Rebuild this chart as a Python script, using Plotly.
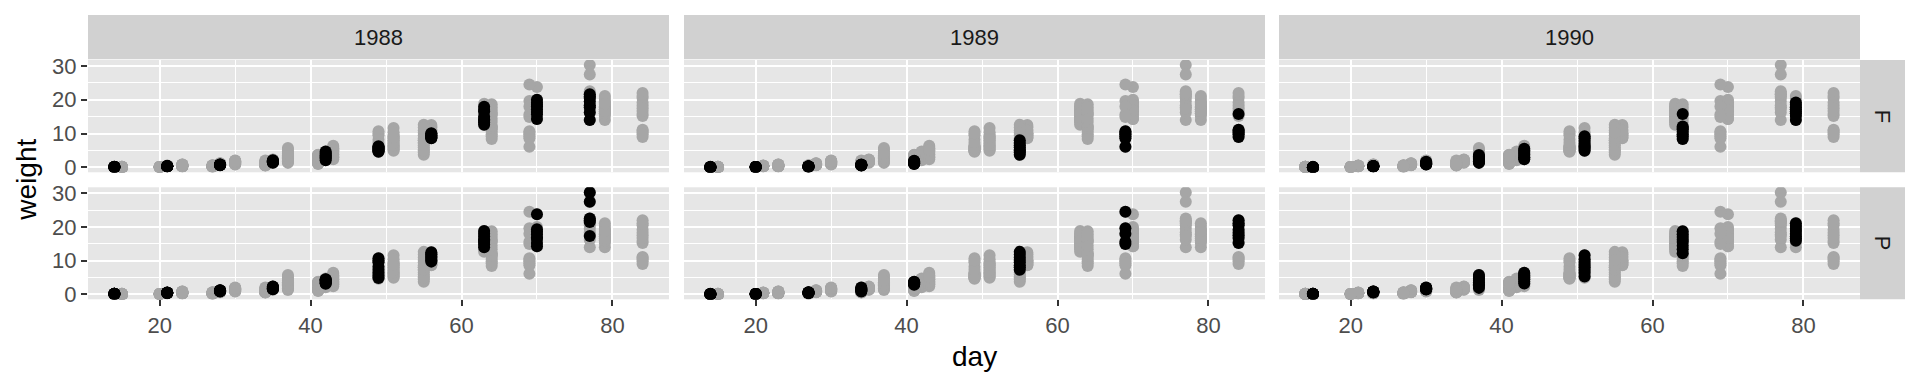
import plotly.graph_objects as go

# ---------------- data (Soybean-like leaf weight vs day) ----------------
years = ["1988", "1989", "1990"]
varieties = ["F", "P"]

days_1988 = [14, 21, 28, 35, 42, 49, 56, 63, 70, 77]
days_1989 = [14, 20, 27, 34, 41, 55, 69, 84]
days_1990 = [15, 23, 30, 37, 43, 51, 64, 79]

weight_1988_F = [
    [0.10, 0.10, 0.09, 0.11, 0.10, 0.11, 0.12, 0.10],
    [0.26, 0.33, 0.30, 0.28, 0.35, 0.31, 0.27, 0.29],
    [0.67, 0.79, 0.71, 0.62, 0.84, 0.75, 0.70, 0.66],
    [2.11, 1.45, 1.60, 1.80, 1.35, 1.95, 1.70, 1.55],
    [3.56, 4.70, 2.10, 3.20, 4.20, 2.60, 3.90, 2.90],
    [6.23, 5.00, 4.60, 5.60, 6.00, 4.90, 5.30, 5.80],
    [8.71, 9.50, 10.10, 8.60, 9.20, 9.90, 8.90, 9.40],
    [13.35, 15.00, 17.90, 12.60, 16.50, 14.20, 17.00, 13.80],
    [16.34, 18.50, 20.00, 14.30, 17.20, 19.10, 15.60, 18.00],
    [17.75, 21.60, 20.50, 19.50, 14.00, 18.40, 21.00, 16.20],
]
weight_1988_P = [
    [0.10, 0.12, 0.13, 0.11, 0.14, 0.12, 0.10, 0.13],
    [0.40, 0.45, 0.38, 0.50, 0.42, 0.36, 0.48, 0.44],
    [1.00, 1.15, 0.95, 1.20, 0.90, 1.05, 1.10, 0.85],
    [1.80, 2.20, 1.60, 2.00, 1.70, 2.30, 1.90, 1.50],
    [3.10, 4.50, 3.80, 4.20, 3.50, 4.00, 3.30, 4.40],
    [4.80, 10.70, 6.50, 8.20, 9.50, 5.60, 7.30, 10.00],
    [9.70, 12.50, 10.50, 11.80, 11.20, 10.10, 12.00, 10.90],
    [14.00, 18.80, 15.50, 17.20, 16.30, 14.80, 18.00, 15.90],
    [14.30, 23.80, 19.30, 16.50, 17.80, 15.20, 18.60, 16.90],
    [30.27, 27.50, 22.50, 21.50, 17.30, 22.00],
]
weight_1989_F = [
    [0.03, 0.04, 0.05, 0.04, 0.03, 0.05, 0.04, 0.03],
    [0.05, 0.06, 0.07, 0.05, 0.08, 0.06, 0.07, 0.05],
    [0.20, 0.25, 0.18, 0.22, 0.28, 0.21, 0.24, 0.19],
    [0.60, 0.75, 0.55, 0.70, 0.65, 0.80, 0.58, 0.68],
    [1.00, 1.90, 1.30, 1.60, 1.20, 1.75, 1.45, 1.10],
    [3.70, 8.00, 5.20, 6.50, 4.40, 7.20, 5.90, 4.90],
    [6.10, 10.70, 9.80, 8.60, 10.20, 9.20],
    [15.80, 11.10, 9.00, 10.30, 10.80, 9.80],
]
weight_1989_P = [
    [0.03, 0.05, 0.04, 0.06, 0.05, 0.04, 0.03, 0.05],
    [0.06, 0.08, 0.07, 0.09, 0.06, 0.08, 0.07, 0.05],
    [0.40, 0.55, 0.35, 0.48, 0.62, 0.42, 0.50, 0.38],
    [0.80, 2.00, 1.40, 1.10, 1.70, 1.25, 1.55, 0.95],
    [2.80, 3.70, 3.10, 3.40, 2.95, 3.60, 3.25, 3.50],
    [7.30, 12.60, 10.90, 8.00, 9.50, 11.80, 8.60, 10.20],
    [24.50, 19.60, 18.00, 15.60, 14.90],
    [22.00, 15.20, 20.50, 18.30, 16.70, 21.10, 19.20, 17.50],
]
weight_1990_F = [
    [0.02, 0.03, 0.02, 0.04, 0.03, 0.02, 0.03, 0.04],
    [0.30, 0.25, 0.35, 0.28, 0.32, 0.22, 0.38, 0.27],
    [0.80, 1.20, 1.60, 1.00, 1.40, 0.90, 1.30, 1.10],
    [1.30, 3.60, 2.20, 2.80, 1.80, 3.20, 2.50, 1.60],
    [2.40, 5.50, 3.60, 4.50, 3.00, 5.00, 4.00, 2.80],
    [4.90, 9.20, 6.30, 7.80, 5.50, 8.60, 7.00, 6.00],
    [15.80, 12.10, 8.40, 10.50, 11.30, 9.20, 9.80, 11.60],
    [14.00, 19.20, 16.50, 17.80, 15.20, 18.50, 16.00, 17.20],
]
weight_1990_P = [
    [0.10, 0.12, 0.08, 0.11, 0.09, 0.13, 0.10, 0.12],
    [0.70, 0.60, 0.80, 0.65, 0.75, 0.55, 0.85, 0.70],
    [1.60, 1.90, 1.40, 1.75, 1.50, 2.00, 1.65, 1.80],
    [1.90, 5.70, 3.50, 4.60, 2.60, 5.10, 3.00, 4.00],
    [3.20, 6.40, 4.50, 5.60, 3.80, 6.00, 4.90, 5.20],
    [5.30, 11.60, 8.00, 9.60, 6.40, 7.20, 8.80, 10.40],
    [12.20, 18.70, 15.50, 17.00, 13.40, 16.20, 14.40, 17.80],
    [15.90, 21.10, 18.00, 19.50, 17.20, 20.30, 16.60, 18.80],
]

x_ticks = [20, 40, 60, 80]
y_ticks = [0, 10, 20, 30]

groups = {
    ("1988", "F"): (days_1988, weight_1988_F),
    ("1988", "P"): (days_1988, weight_1988_P),
    ("1989", "F"): (days_1989, weight_1989_F),
    ("1989", "P"): (days_1989, weight_1989_P),
    ("1990", "F"): (days_1990, weight_1990_F),
    ("1990", "P"): (days_1990, weight_1990_P),
}


def flatten(days, weights):
    xs, ys = [], []
    for d, ws in zip(days, weights):
        for w in ws:
            xs.append(d)
            ys.append(w)
    return xs, ys


flat = {k: flatten(*v) for k, v in groups.items()}
all_x = [x for k in flat for x in flat[k][0]]
all_y = [y for k in flat for y in flat[k][1]]

# ggplot-like 5% expansion
xspan = max(all_x) - min(all_x)
yspan = max(all_y) - min(all_y)
xrange_ = [min(all_x) - 0.05 * xspan, max(all_x) + 0.05 * xspan]
yrange_ = [min(all_y) - 0.05 * yspan, max(all_y) + 0.05 * yspan]

# ---------------- layout geometry (pixels) ----------------
W, H = 1920, 384
col_px = [(88, 669), (684, 1265), (1279, 1860)]
row_px = [(60, 172.3), (187.3, 299.3)]
strip_top = (15, 59.3)
strip_right = (1860, 1905)

FONT = "Liberation Sans, Arial, Helvetica, sans-serif"
GRAY = "#A6A6A6"
STRIP = "#D1D1D1"
PANEL = "#E6E6E6"
TICKFONT = dict(family=FONT, size=22, color="#4D4D4D")


def fx(p):
    return p / W


def fy(p):
    return 1 - p / H


fig = go.Figure()
layout = dict(
    width=W, height=H,
    margin=dict(l=0, r=0, t=0, b=0, pad=0, autoexpand=False),
    paper_bgcolor="white",
    plot_bgcolor=PANEL,
    showlegend=False,
    shapes=[], annotations=[],
)

for r, var in enumerate(varieties):
    for c, yr in enumerate(years):
        k = r * 3 + c + 1
        xa = "x" if k == 1 else f"x{k}"
        ya = "y" if k == 1 else f"y{k}"
        fig.add_trace(go.Scatter(
            x=all_x, y=all_y, mode="markers", xaxis=xa, yaxis=ya,
            marker=dict(color=GRAY, size=12, line=dict(width=0)),
            hoverinfo="skip"))
        gx, gy = flat[(yr, var)]
        fig.add_trace(go.Scatter(
            x=gx, y=gy, mode="markers", xaxis=xa, yaxis=ya,
            marker=dict(color="black", size=12, line=dict(width=0)),
            hoverinfo="skip"))
        bottom = (r == 1)
        left = (c == 0)
        layout["xaxis" if k == 1 else f"xaxis{k}"] = dict(
            domain=[fx(col_px[c][0]), fx(col_px[c][1])],
            anchor=ya, range=xrange_, tickvals=x_ticks, automargin=False,
            showticklabels=bottom, ticks="outside" if bottom else "",
            ticklen=6, tickwidth=2, tickcolor="#333333",
            tickfont=TICKFONT, showgrid=True, gridcolor="white", gridwidth=2,
            minor=dict(tickvals=[30, 50, 70], showgrid=True,
                       gridcolor="white", gridwidth=1, ticks=""),
            zeroline=False, showline=False, fixedrange=True,
        )
        layout["yaxis" if k == 1 else f"yaxis{k}"] = dict(
            domain=[fy(row_px[r][1]), fy(row_px[r][0])],
            anchor=xa, range=yrange_, tickvals=y_ticks, automargin=False,
            showticklabels=left, ticks="outside" if left else "",
            ticklen=6, tickwidth=2, tickcolor="#333333",
            tickfont=TICKFONT, showgrid=True, gridcolor="white", gridwidth=2,
            minor=dict(tickvals=[5, 15, 25], showgrid=True,
                       gridcolor="white", gridwidth=1, ticks=""),
            zeroline=False, showline=False, fixedrange=True,
        )

# top strips
for c, yr in enumerate(years):
    x0, x1 = col_px[c]
    layout["shapes"].append(dict(
        type="rect", xref="paper", yref="paper",
        x0=fx(x0), x1=fx(x1), y0=fy(strip_top[1]), y1=fy(strip_top[0]),
        fillcolor=STRIP, line=dict(width=0), layer="below"))
    layout["annotations"].append(dict(
        text=yr, xref="paper", yref="paper", showarrow=False,
        x=fx((x0 + x1) / 2), y=fy((strip_top[0] + strip_top[1]) / 2),
        xanchor="center", yanchor="middle",
        font=dict(family=FONT, size=22, color="#1A1A1A")))

# right strips
for r, var in enumerate(varieties):
    y0, y1 = row_px[r]
    layout["shapes"].append(dict(
        type="rect", xref="paper", yref="paper",
        x0=fx(strip_right[0]), x1=fx(strip_right[1]), y0=fy(y1), y1=fy(y0),
        fillcolor=STRIP, line=dict(width=0), layer="below"))
    layout["annotations"].append(dict(
        text=var, xref="paper", yref="paper", showarrow=False, textangle=90,
        x=fx((strip_right[0] + strip_right[1]) / 2), y=fy((y0 + y1) / 2),
        xanchor="center", yanchor="middle",
        font=dict(family=FONT, size=22, color="#1A1A1A")))

# axis titles
layout["annotations"].append(dict(
    text="day", xref="paper", yref="paper", showarrow=False,
    x=fx((col_px[0][0] + col_px[2][1]) / 2), y=fy(356),
    xanchor="center", yanchor="middle",
    font=dict(family=FONT, size=28, color="black")))
layout["annotations"].append(dict(
    text="weight", xref="paper", yref="paper", showarrow=False, textangle=-90,
    x=fx(27), y=fy((row_px[0][0] + row_px[1][1]) / 2),
    xanchor="center", yanchor="middle",
    font=dict(family=FONT, size=28, color="black")))

fig.update_layout(**layout)
fig.write_html("out.html")
